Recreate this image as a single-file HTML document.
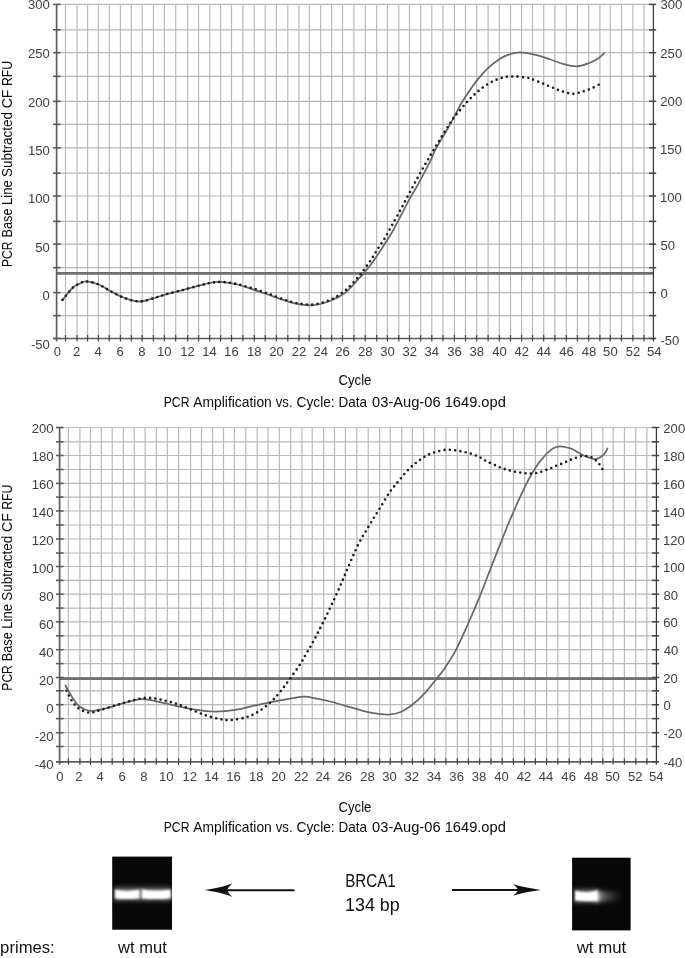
<!DOCTYPE html>
<html><head><meta charset="utf-8"><title>PCR Amplification</title><style>
html,body{margin:0;padding:0;background:#fff;overflow:hidden;}
svg{display:block;will-change:transform;}
text{font-family:"Liberation Sans",sans-serif;}
.lab{font-size:13.7px;fill:#404040;}
.ttl{font-size:14.6px;fill:#0a0a0a;}
.yt{font-size:14.6px;fill:#0a0a0a;}
.big{font-size:19px;fill:#111;}
.sm{font-size:16.2px;fill:#111;}
</style></head>
<body><svg width="685" height="958" viewBox="0 0 685 958">
<rect width="685" height="958" fill="#fff"/>
<line x1="65.5" y1="4.4" x2="65.5" y2="338.5" stroke="#b9b9b9" stroke-width="1.2"/>
<line x1="77" y1="4.4" x2="77" y2="338.5" stroke="#b9b9b9" stroke-width="1.2"/>
<line x1="87.6" y1="4.4" x2="87.6" y2="338.5" stroke="#b9b9b9" stroke-width="1.2"/>
<line x1="98.4" y1="4.4" x2="98.4" y2="338.5" stroke="#b9b9b9" stroke-width="1.2"/>
<line x1="109.3" y1="4.4" x2="109.3" y2="338.5" stroke="#b9b9b9" stroke-width="1.2"/>
<line x1="120.4" y1="4.4" x2="120.4" y2="338.5" stroke="#b9b9b9" stroke-width="1.2"/>
<line x1="131.3" y1="4.4" x2="131.3" y2="338.5" stroke="#b9b9b9" stroke-width="1.2"/>
<line x1="142.2" y1="4.4" x2="142.2" y2="338.5" stroke="#b9b9b9" stroke-width="1.2"/>
<line x1="153.4" y1="4.4" x2="153.4" y2="338.5" stroke="#b9b9b9" stroke-width="1.2"/>
<line x1="164.4" y1="4.4" x2="164.4" y2="338.5" stroke="#b9b9b9" stroke-width="1.2"/>
<line x1="175.7" y1="4.4" x2="175.7" y2="338.5" stroke="#b9b9b9" stroke-width="1.2"/>
<line x1="187.7" y1="4.4" x2="187.7" y2="338.5" stroke="#b9b9b9" stroke-width="1.2"/>
<line x1="198.6" y1="4.4" x2="198.6" y2="338.5" stroke="#b9b9b9" stroke-width="1.2"/>
<line x1="209.7" y1="4.4" x2="209.7" y2="338.5" stroke="#b9b9b9" stroke-width="1.2"/>
<line x1="220.6" y1="4.4" x2="220.6" y2="338.5" stroke="#b9b9b9" stroke-width="1.2"/>
<line x1="231.5" y1="4.4" x2="231.5" y2="338.5" stroke="#b9b9b9" stroke-width="1.2"/>
<line x1="242.9" y1="4.4" x2="242.9" y2="338.5" stroke="#b9b9b9" stroke-width="1.2"/>
<line x1="254.3" y1="4.4" x2="254.3" y2="338.5" stroke="#b9b9b9" stroke-width="1.2"/>
<line x1="265.2" y1="4.4" x2="265.2" y2="338.5" stroke="#b9b9b9" stroke-width="1.2"/>
<line x1="276.4" y1="4.4" x2="276.4" y2="338.5" stroke="#b9b9b9" stroke-width="1.2"/>
<line x1="287.8" y1="4.4" x2="287.8" y2="338.5" stroke="#b9b9b9" stroke-width="1.2"/>
<line x1="299" y1="4.4" x2="299" y2="338.5" stroke="#b9b9b9" stroke-width="1.2"/>
<line x1="309.3" y1="4.4" x2="309.3" y2="338.5" stroke="#b9b9b9" stroke-width="1.2"/>
<line x1="320.7" y1="4.4" x2="320.7" y2="338.5" stroke="#b9b9b9" stroke-width="1.2"/>
<line x1="331.6" y1="4.4" x2="331.6" y2="338.5" stroke="#b9b9b9" stroke-width="1.2"/>
<line x1="342.5" y1="4.4" x2="342.5" y2="338.5" stroke="#b9b9b9" stroke-width="1.2"/>
<line x1="353.9" y1="4.4" x2="353.9" y2="338.5" stroke="#b9b9b9" stroke-width="1.2"/>
<line x1="365.3" y1="4.4" x2="365.3" y2="338.5" stroke="#b9b9b9" stroke-width="1.2"/>
<line x1="376.7" y1="4.4" x2="376.7" y2="338.5" stroke="#b9b9b9" stroke-width="1.2"/>
<line x1="387.4" y1="4.4" x2="387.4" y2="338.5" stroke="#b9b9b9" stroke-width="1.2"/>
<line x1="398.8" y1="4.4" x2="398.8" y2="338.5" stroke="#b9b9b9" stroke-width="1.2"/>
<line x1="409.5" y1="4.4" x2="409.5" y2="338.5" stroke="#b9b9b9" stroke-width="1.2"/>
<line x1="420.7" y1="4.4" x2="420.7" y2="338.5" stroke="#b9b9b9" stroke-width="1.2"/>
<line x1="431.8" y1="4.4" x2="431.8" y2="338.5" stroke="#b9b9b9" stroke-width="1.2"/>
<line x1="443" y1="4.4" x2="443" y2="338.5" stroke="#b9b9b9" stroke-width="1.2"/>
<line x1="454.4" y1="4.4" x2="454.4" y2="338.5" stroke="#b9b9b9" stroke-width="1.2"/>
<line x1="465.5" y1="4.4" x2="465.5" y2="338.5" stroke="#b9b9b9" stroke-width="1.2"/>
<line x1="476.7" y1="4.4" x2="476.7" y2="338.5" stroke="#b9b9b9" stroke-width="1.2"/>
<line x1="488.1" y1="4.4" x2="488.1" y2="338.5" stroke="#b9b9b9" stroke-width="1.2"/>
<line x1="499.3" y1="4.4" x2="499.3" y2="338.5" stroke="#b9b9b9" stroke-width="1.2"/>
<line x1="510.5" y1="4.4" x2="510.5" y2="338.5" stroke="#b9b9b9" stroke-width="1.2"/>
<line x1="521.6" y1="4.4" x2="521.6" y2="338.5" stroke="#b9b9b9" stroke-width="1.2"/>
<line x1="532.5" y1="4.4" x2="532.5" y2="338.5" stroke="#b9b9b9" stroke-width="1.2"/>
<line x1="543.7" y1="4.4" x2="543.7" y2="338.5" stroke="#b9b9b9" stroke-width="1.2"/>
<line x1="554.9" y1="4.4" x2="554.9" y2="338.5" stroke="#b9b9b9" stroke-width="1.2"/>
<line x1="566.3" y1="4.4" x2="566.3" y2="338.5" stroke="#b9b9b9" stroke-width="1.2"/>
<line x1="577.4" y1="4.4" x2="577.4" y2="338.5" stroke="#b9b9b9" stroke-width="1.2"/>
<line x1="588.7" y1="4.4" x2="588.7" y2="338.5" stroke="#b9b9b9" stroke-width="1.2"/>
<line x1="599.9" y1="4.4" x2="599.9" y2="338.5" stroke="#b9b9b9" stroke-width="1.2"/>
<line x1="610.3" y1="4.4" x2="610.3" y2="338.5" stroke="#b9b9b9" stroke-width="1.2"/>
<line x1="621.5" y1="4.4" x2="621.5" y2="338.5" stroke="#b9b9b9" stroke-width="1.2"/>
<line x1="632.9" y1="4.4" x2="632.9" y2="338.5" stroke="#b9b9b9" stroke-width="1.2"/>
<line x1="644" y1="4.4" x2="644" y2="338.5" stroke="#b9b9b9" stroke-width="1.2"/>
<line x1="56.6" y1="4.4" x2="653.4" y2="4.4" stroke="#b9b9b9" stroke-width="1.2"/>
<line x1="56.6" y1="29.8" x2="653.4" y2="29.8" stroke="#b9b9b9" stroke-width="1.2"/>
<line x1="56.6" y1="52.7" x2="653.4" y2="52.7" stroke="#b9b9b9" stroke-width="1.2"/>
<line x1="56.6" y1="76.3" x2="653.4" y2="76.3" stroke="#b9b9b9" stroke-width="1.2"/>
<line x1="56.6" y1="101.3" x2="653.4" y2="101.3" stroke="#b9b9b9" stroke-width="1.2"/>
<line x1="56.6" y1="124.3" x2="653.4" y2="124.3" stroke="#b9b9b9" stroke-width="1.2"/>
<line x1="56.6" y1="147.8" x2="653.4" y2="147.8" stroke="#b9b9b9" stroke-width="1.2"/>
<line x1="56.6" y1="173.2" x2="653.4" y2="173.2" stroke="#b9b9b9" stroke-width="1.2"/>
<line x1="56.6" y1="196" x2="653.4" y2="196" stroke="#b9b9b9" stroke-width="1.2"/>
<line x1="56.6" y1="221.4" x2="653.4" y2="221.4" stroke="#b9b9b9" stroke-width="1.2"/>
<line x1="56.6" y1="244.1" x2="653.4" y2="244.1" stroke="#b9b9b9" stroke-width="1.2"/>
<line x1="56.6" y1="267.7" x2="653.4" y2="267.7" stroke="#b9b9b9" stroke-width="1.2"/>
<line x1="56.6" y1="292.6" x2="653.4" y2="292.6" stroke="#b9b9b9" stroke-width="1.2"/>
<line x1="56.6" y1="315.6" x2="653.4" y2="315.6" stroke="#b9b9b9" stroke-width="1.2"/>
<line x1="56.6" y1="273.4" x2="653.4" y2="273.4" stroke="#6f6f6f" stroke-width="2.8"/>
<line x1="56.6" y1="4.4" x2="56.6" y2="341.5" stroke="#5c5c5c" stroke-width="1.7"/>
<line x1="653.4" y1="4.4" x2="653.4" y2="341.5" stroke="#333" stroke-width="1.2"/>
<line x1="53.1" y1="338.5" x2="655.4" y2="338.5" stroke="#5c5c5c" stroke-width="1.7"/>
<line x1="53" y1="4.4" x2="60.6" y2="4.4" stroke="#5c5c5c" stroke-width="1.6"/>
<line x1="649" y1="4.4" x2="656.2" y2="4.4" stroke="#444" stroke-width="1.5"/>
<line x1="53" y1="29.8" x2="60.6" y2="29.8" stroke="#5c5c5c" stroke-width="1.6"/>
<line x1="649" y1="29.8" x2="656.2" y2="29.8" stroke="#444" stroke-width="1.5"/>
<line x1="53" y1="52.7" x2="60.6" y2="52.7" stroke="#5c5c5c" stroke-width="1.6"/>
<line x1="649" y1="52.7" x2="656.2" y2="52.7" stroke="#444" stroke-width="1.5"/>
<line x1="53" y1="76.3" x2="60.6" y2="76.3" stroke="#5c5c5c" stroke-width="1.6"/>
<line x1="649" y1="76.3" x2="656.2" y2="76.3" stroke="#444" stroke-width="1.5"/>
<line x1="53" y1="101.3" x2="60.6" y2="101.3" stroke="#5c5c5c" stroke-width="1.6"/>
<line x1="649" y1="101.3" x2="656.2" y2="101.3" stroke="#444" stroke-width="1.5"/>
<line x1="53" y1="124.3" x2="60.6" y2="124.3" stroke="#5c5c5c" stroke-width="1.6"/>
<line x1="649" y1="124.3" x2="656.2" y2="124.3" stroke="#444" stroke-width="1.5"/>
<line x1="53" y1="147.8" x2="60.6" y2="147.8" stroke="#5c5c5c" stroke-width="1.6"/>
<line x1="649" y1="147.8" x2="656.2" y2="147.8" stroke="#444" stroke-width="1.5"/>
<line x1="53" y1="173.2" x2="60.6" y2="173.2" stroke="#5c5c5c" stroke-width="1.6"/>
<line x1="649" y1="173.2" x2="656.2" y2="173.2" stroke="#444" stroke-width="1.5"/>
<line x1="53" y1="196" x2="60.6" y2="196" stroke="#5c5c5c" stroke-width="1.6"/>
<line x1="649" y1="196" x2="656.2" y2="196" stroke="#444" stroke-width="1.5"/>
<line x1="53" y1="221.4" x2="60.6" y2="221.4" stroke="#5c5c5c" stroke-width="1.6"/>
<line x1="649" y1="221.4" x2="656.2" y2="221.4" stroke="#444" stroke-width="1.5"/>
<line x1="53" y1="244.1" x2="60.6" y2="244.1" stroke="#5c5c5c" stroke-width="1.6"/>
<line x1="649" y1="244.1" x2="656.2" y2="244.1" stroke="#444" stroke-width="1.5"/>
<line x1="53" y1="267.7" x2="60.6" y2="267.7" stroke="#5c5c5c" stroke-width="1.6"/>
<line x1="649" y1="267.7" x2="656.2" y2="267.7" stroke="#444" stroke-width="1.5"/>
<line x1="53" y1="292.6" x2="60.6" y2="292.6" stroke="#5c5c5c" stroke-width="1.6"/>
<line x1="649" y1="292.6" x2="656.2" y2="292.6" stroke="#444" stroke-width="1.5"/>
<line x1="53" y1="315.6" x2="60.6" y2="315.6" stroke="#5c5c5c" stroke-width="1.6"/>
<line x1="649" y1="315.6" x2="656.2" y2="315.6" stroke="#444" stroke-width="1.5"/>
<line x1="53" y1="338.5" x2="60.6" y2="338.5" stroke="#5c5c5c" stroke-width="1.6"/>
<line x1="649" y1="338.5" x2="656.2" y2="338.5" stroke="#444" stroke-width="1.5"/>
<line x1="65.5" y1="335" x2="65.5" y2="341.5" stroke="#444" stroke-width="1.2"/>
<line x1="77" y1="335" x2="77" y2="341.5" stroke="#444" stroke-width="1.2"/>
<line x1="87.6" y1="335" x2="87.6" y2="341.5" stroke="#444" stroke-width="1.2"/>
<line x1="98.4" y1="335" x2="98.4" y2="341.5" stroke="#444" stroke-width="1.2"/>
<line x1="109.3" y1="335" x2="109.3" y2="341.5" stroke="#444" stroke-width="1.2"/>
<line x1="120.4" y1="335" x2="120.4" y2="341.5" stroke="#444" stroke-width="1.2"/>
<line x1="131.3" y1="335" x2="131.3" y2="341.5" stroke="#444" stroke-width="1.2"/>
<line x1="142.2" y1="335" x2="142.2" y2="341.5" stroke="#444" stroke-width="1.2"/>
<line x1="153.4" y1="335" x2="153.4" y2="341.5" stroke="#444" stroke-width="1.2"/>
<line x1="164.4" y1="335" x2="164.4" y2="341.5" stroke="#444" stroke-width="1.2"/>
<line x1="175.7" y1="335" x2="175.7" y2="341.5" stroke="#444" stroke-width="1.2"/>
<line x1="187.7" y1="335" x2="187.7" y2="341.5" stroke="#444" stroke-width="1.2"/>
<line x1="198.6" y1="335" x2="198.6" y2="341.5" stroke="#444" stroke-width="1.2"/>
<line x1="209.7" y1="335" x2="209.7" y2="341.5" stroke="#444" stroke-width="1.2"/>
<line x1="220.6" y1="335" x2="220.6" y2="341.5" stroke="#444" stroke-width="1.2"/>
<line x1="231.5" y1="335" x2="231.5" y2="341.5" stroke="#444" stroke-width="1.2"/>
<line x1="242.9" y1="335" x2="242.9" y2="341.5" stroke="#444" stroke-width="1.2"/>
<line x1="254.3" y1="335" x2="254.3" y2="341.5" stroke="#444" stroke-width="1.2"/>
<line x1="265.2" y1="335" x2="265.2" y2="341.5" stroke="#444" stroke-width="1.2"/>
<line x1="276.4" y1="335" x2="276.4" y2="341.5" stroke="#444" stroke-width="1.2"/>
<line x1="287.8" y1="335" x2="287.8" y2="341.5" stroke="#444" stroke-width="1.2"/>
<line x1="299" y1="335" x2="299" y2="341.5" stroke="#444" stroke-width="1.2"/>
<line x1="309.3" y1="335" x2="309.3" y2="341.5" stroke="#444" stroke-width="1.2"/>
<line x1="320.7" y1="335" x2="320.7" y2="341.5" stroke="#444" stroke-width="1.2"/>
<line x1="331.6" y1="335" x2="331.6" y2="341.5" stroke="#444" stroke-width="1.2"/>
<line x1="342.5" y1="335" x2="342.5" y2="341.5" stroke="#444" stroke-width="1.2"/>
<line x1="353.9" y1="335" x2="353.9" y2="341.5" stroke="#444" stroke-width="1.2"/>
<line x1="365.3" y1="335" x2="365.3" y2="341.5" stroke="#444" stroke-width="1.2"/>
<line x1="376.7" y1="335" x2="376.7" y2="341.5" stroke="#444" stroke-width="1.2"/>
<line x1="387.4" y1="335" x2="387.4" y2="341.5" stroke="#444" stroke-width="1.2"/>
<line x1="398.8" y1="335" x2="398.8" y2="341.5" stroke="#444" stroke-width="1.2"/>
<line x1="409.5" y1="335" x2="409.5" y2="341.5" stroke="#444" stroke-width="1.2"/>
<line x1="420.7" y1="335" x2="420.7" y2="341.5" stroke="#444" stroke-width="1.2"/>
<line x1="431.8" y1="335" x2="431.8" y2="341.5" stroke="#444" stroke-width="1.2"/>
<line x1="443" y1="335" x2="443" y2="341.5" stroke="#444" stroke-width="1.2"/>
<line x1="454.4" y1="335" x2="454.4" y2="341.5" stroke="#444" stroke-width="1.2"/>
<line x1="465.5" y1="335" x2="465.5" y2="341.5" stroke="#444" stroke-width="1.2"/>
<line x1="476.7" y1="335" x2="476.7" y2="341.5" stroke="#444" stroke-width="1.2"/>
<line x1="488.1" y1="335" x2="488.1" y2="341.5" stroke="#444" stroke-width="1.2"/>
<line x1="499.3" y1="335" x2="499.3" y2="341.5" stroke="#444" stroke-width="1.2"/>
<line x1="510.5" y1="335" x2="510.5" y2="341.5" stroke="#444" stroke-width="1.2"/>
<line x1="521.6" y1="335" x2="521.6" y2="341.5" stroke="#444" stroke-width="1.2"/>
<line x1="532.5" y1="335" x2="532.5" y2="341.5" stroke="#444" stroke-width="1.2"/>
<line x1="543.7" y1="335" x2="543.7" y2="341.5" stroke="#444" stroke-width="1.2"/>
<line x1="554.9" y1="335" x2="554.9" y2="341.5" stroke="#444" stroke-width="1.2"/>
<line x1="566.3" y1="335" x2="566.3" y2="341.5" stroke="#444" stroke-width="1.2"/>
<line x1="577.4" y1="335" x2="577.4" y2="341.5" stroke="#444" stroke-width="1.2"/>
<line x1="588.7" y1="335" x2="588.7" y2="341.5" stroke="#444" stroke-width="1.2"/>
<line x1="599.9" y1="335" x2="599.9" y2="341.5" stroke="#444" stroke-width="1.2"/>
<line x1="610.3" y1="335" x2="610.3" y2="341.5" stroke="#444" stroke-width="1.2"/>
<line x1="621.5" y1="335" x2="621.5" y2="341.5" stroke="#444" stroke-width="1.2"/>
<line x1="632.9" y1="335" x2="632.9" y2="341.5" stroke="#444" stroke-width="1.2"/>
<line x1="644" y1="335" x2="644" y2="341.5" stroke="#444" stroke-width="1.2"/>
<text x="27.98" y="9.38" class="lab" textLength="21.83" lengthAdjust="spacingAndGlyphs">300</text>
<text x="27.98" y="57.88" class="lab" textLength="21.83" lengthAdjust="spacingAndGlyphs">250</text>
<text x="27.98" y="106.58" class="lab" textLength="21.83" lengthAdjust="spacingAndGlyphs">200</text>
<text x="27.98" y="155.18" class="lab" textLength="21.83" lengthAdjust="spacingAndGlyphs">150</text>
<text x="27.98" y="203.28" class="lab" textLength="21.83" lengthAdjust="spacingAndGlyphs">100</text>
<text x="35.26" y="251.88" class="lab" textLength="14.55" lengthAdjust="spacingAndGlyphs">50</text>
<text x="42.53" y="300.48" class="lab" textLength="7.28" lengthAdjust="spacingAndGlyphs">0</text>
<text x="30.9" y="348.58" class="lab" textLength="18.91" lengthAdjust="spacingAndGlyphs">-50</text>
<text x="660.5" y="9.48" class="lab" textLength="21.83" lengthAdjust="spacingAndGlyphs">300</text>
<text x="660.34" y="57.58" class="lab" textLength="21.83" lengthAdjust="spacingAndGlyphs">250</text>
<text x="660.34" y="106.28" class="lab" textLength="21.83" lengthAdjust="spacingAndGlyphs">200</text>
<text x="660" y="153.58" class="lab" textLength="21.83" lengthAdjust="spacingAndGlyphs">150</text>
<text x="660" y="202.08" class="lab" textLength="21.83" lengthAdjust="spacingAndGlyphs">100</text>
<text x="660.48" y="249.98" class="lab" textLength="14.55" lengthAdjust="spacingAndGlyphs">50</text>
<text x="660.49" y="297.68" class="lab" textLength="7.28" lengthAdjust="spacingAndGlyphs">0</text>
<text x="660.42" y="345.38" class="lab" textLength="18.91" lengthAdjust="spacingAndGlyphs">-50</text>
<text x="53.66" y="356.18" class="lab" textLength="7.28" lengthAdjust="spacingAndGlyphs">0</text>
<text x="73.06" y="356.18" class="lab" textLength="7.28" lengthAdjust="spacingAndGlyphs">2</text>
<text x="94.5" y="356.18" class="lab" textLength="7.28" lengthAdjust="spacingAndGlyphs">4</text>
<text x="116.42" y="356.18" class="lab" textLength="7.28" lengthAdjust="spacingAndGlyphs">6</text>
<text x="138.26" y="356.18" class="lab" textLength="7.28" lengthAdjust="spacingAndGlyphs">8</text>
<text x="156.98" y="356.18" class="lab" textLength="14.55" lengthAdjust="spacingAndGlyphs">10</text>
<text x="180.35" y="356.18" class="lab" textLength="14.55" lengthAdjust="spacingAndGlyphs">12</text>
<text x="202.22" y="356.18" class="lab" textLength="14.55" lengthAdjust="spacingAndGlyphs">14</text>
<text x="224.11" y="356.18" class="lab" textLength="14.55" lengthAdjust="spacingAndGlyphs">16</text>
<text x="246.91" y="356.18" class="lab" textLength="14.55" lengthAdjust="spacingAndGlyphs">18</text>
<text x="269.15" y="356.18" class="lab" textLength="14.55" lengthAdjust="spacingAndGlyphs">20</text>
<text x="291.82" y="356.18" class="lab" textLength="14.55" lengthAdjust="spacingAndGlyphs">22</text>
<text x="313.39" y="356.18" class="lab" textLength="14.55" lengthAdjust="spacingAndGlyphs">24</text>
<text x="335.28" y="356.18" class="lab" textLength="14.55" lengthAdjust="spacingAndGlyphs">26</text>
<text x="358.08" y="356.18" class="lab" textLength="14.55" lengthAdjust="spacingAndGlyphs">28</text>
<text x="380.23" y="356.18" class="lab" textLength="14.55" lengthAdjust="spacingAndGlyphs">30</text>
<text x="402.4" y="356.18" class="lab" textLength="14.55" lengthAdjust="spacingAndGlyphs">32</text>
<text x="424.57" y="356.18" class="lab" textLength="14.55" lengthAdjust="spacingAndGlyphs">34</text>
<text x="447.26" y="356.18" class="lab" textLength="14.55" lengthAdjust="spacingAndGlyphs">36</text>
<text x="469.56" y="356.18" class="lab" textLength="14.55" lengthAdjust="spacingAndGlyphs">38</text>
<text x="492.23" y="356.18" class="lab" textLength="14.55" lengthAdjust="spacingAndGlyphs">40</text>
<text x="514.6" y="356.18" class="lab" textLength="14.55" lengthAdjust="spacingAndGlyphs">42</text>
<text x="536.57" y="356.18" class="lab" textLength="14.55" lengthAdjust="spacingAndGlyphs">44</text>
<text x="559.26" y="356.18" class="lab" textLength="14.55" lengthAdjust="spacingAndGlyphs">46</text>
<text x="581.66" y="356.18" class="lab" textLength="14.55" lengthAdjust="spacingAndGlyphs">48</text>
<text x="603.12" y="356.18" class="lab" textLength="14.55" lengthAdjust="spacingAndGlyphs">50</text>
<text x="625.79" y="356.18" class="lab" textLength="14.55" lengthAdjust="spacingAndGlyphs">52</text>
<text x="647.05" y="356.18" class="lab" textLength="14.55" lengthAdjust="spacingAndGlyphs">54</text>
<text x="338.43" y="384.8" class="ttl" textLength="33.06" lengthAdjust="spacingAndGlyphs">Cycle</text>
<text x="163.7" y="406.8" class="ttl" textLength="25.77" lengthAdjust="spacingAndGlyphs">PCR</text>
<text x="193.27" y="406.8" class="ttl" textLength="78.53" lengthAdjust="spacingAndGlyphs">Amplification</text>
<text x="275.75" y="406.8" class="ttl" textLength="16.85" lengthAdjust="spacingAndGlyphs">vs.</text>
<text x="296.5" y="406.8" class="ttl" textLength="38.15" lengthAdjust="spacingAndGlyphs">Cycle:</text>
<text x="338.59" y="406.8" class="ttl" textLength="28.51" lengthAdjust="spacingAndGlyphs">Data</text>
<text x="372.13" y="406.8" class="ttl" textLength="68.42" lengthAdjust="spacingAndGlyphs">03-Aug-06</text>
<text x="444.68" y="406.8" class="ttl" textLength="61.16" lengthAdjust="spacingAndGlyphs">1649.opd</text>
<text transform="translate(12 0) rotate(-90)" x="-266.99" y="0" class="yt" textLength="25.55" lengthAdjust="spacingAndGlyphs">PCR</text>
<text transform="translate(12 0) rotate(-90)" x="-237.54" y="0" class="yt" textLength="29.01" lengthAdjust="spacingAndGlyphs">Base</text>
<text transform="translate(12 0) rotate(-90)" x="-204.97" y="0" class="yt" textLength="24.65" lengthAdjust="spacingAndGlyphs">Line</text>
<text transform="translate(12 0) rotate(-90)" x="-177.01" y="0" class="yt" textLength="64.98" lengthAdjust="spacingAndGlyphs">Subtracted</text>
<text transform="translate(12 0) rotate(-90)" x="-108.32" y="0" class="yt" textLength="18.78" lengthAdjust="spacingAndGlyphs">CF</text>
<text transform="translate(12 0) rotate(-90)" x="-86.1" y="0" class="yt" textLength="25.15" lengthAdjust="spacingAndGlyphs">RFU</text>
<line x1="68.4" y1="427.5" x2="68.4" y2="761.8" stroke="#b9b9b9" stroke-width="1.2"/>
<line x1="79.9" y1="427.5" x2="79.9" y2="761.8" stroke="#b9b9b9" stroke-width="1.2"/>
<line x1="90.5" y1="427.5" x2="90.5" y2="761.8" stroke="#b9b9b9" stroke-width="1.2"/>
<line x1="101.3" y1="427.5" x2="101.3" y2="761.8" stroke="#b9b9b9" stroke-width="1.2"/>
<line x1="112.2" y1="427.5" x2="112.2" y2="761.8" stroke="#b9b9b9" stroke-width="1.2"/>
<line x1="123.3" y1="427.5" x2="123.3" y2="761.8" stroke="#b9b9b9" stroke-width="1.2"/>
<line x1="134.2" y1="427.5" x2="134.2" y2="761.8" stroke="#b9b9b9" stroke-width="1.2"/>
<line x1="145.1" y1="427.5" x2="145.1" y2="761.8" stroke="#b9b9b9" stroke-width="1.2"/>
<line x1="156.3" y1="427.5" x2="156.3" y2="761.8" stroke="#b9b9b9" stroke-width="1.2"/>
<line x1="167.3" y1="427.5" x2="167.3" y2="761.8" stroke="#b9b9b9" stroke-width="1.2"/>
<line x1="178.6" y1="427.5" x2="178.6" y2="761.8" stroke="#b9b9b9" stroke-width="1.2"/>
<line x1="190.6" y1="427.5" x2="190.6" y2="761.8" stroke="#b9b9b9" stroke-width="1.2"/>
<line x1="201.5" y1="427.5" x2="201.5" y2="761.8" stroke="#b9b9b9" stroke-width="1.2"/>
<line x1="212.6" y1="427.5" x2="212.6" y2="761.8" stroke="#b9b9b9" stroke-width="1.2"/>
<line x1="223.5" y1="427.5" x2="223.5" y2="761.8" stroke="#b9b9b9" stroke-width="1.2"/>
<line x1="234.4" y1="427.5" x2="234.4" y2="761.8" stroke="#b9b9b9" stroke-width="1.2"/>
<line x1="245.8" y1="427.5" x2="245.8" y2="761.8" stroke="#b9b9b9" stroke-width="1.2"/>
<line x1="257.2" y1="427.5" x2="257.2" y2="761.8" stroke="#b9b9b9" stroke-width="1.2"/>
<line x1="268.1" y1="427.5" x2="268.1" y2="761.8" stroke="#b9b9b9" stroke-width="1.2"/>
<line x1="279.3" y1="427.5" x2="279.3" y2="761.8" stroke="#b9b9b9" stroke-width="1.2"/>
<line x1="290.7" y1="427.5" x2="290.7" y2="761.8" stroke="#b9b9b9" stroke-width="1.2"/>
<line x1="301.9" y1="427.5" x2="301.9" y2="761.8" stroke="#b9b9b9" stroke-width="1.2"/>
<line x1="312.2" y1="427.5" x2="312.2" y2="761.8" stroke="#b9b9b9" stroke-width="1.2"/>
<line x1="323.6" y1="427.5" x2="323.6" y2="761.8" stroke="#b9b9b9" stroke-width="1.2"/>
<line x1="334.5" y1="427.5" x2="334.5" y2="761.8" stroke="#b9b9b9" stroke-width="1.2"/>
<line x1="345.4" y1="427.5" x2="345.4" y2="761.8" stroke="#b9b9b9" stroke-width="1.2"/>
<line x1="356.8" y1="427.5" x2="356.8" y2="761.8" stroke="#b9b9b9" stroke-width="1.2"/>
<line x1="368.2" y1="427.5" x2="368.2" y2="761.8" stroke="#b9b9b9" stroke-width="1.2"/>
<line x1="379.6" y1="427.5" x2="379.6" y2="761.8" stroke="#b9b9b9" stroke-width="1.2"/>
<line x1="390.3" y1="427.5" x2="390.3" y2="761.8" stroke="#b9b9b9" stroke-width="1.2"/>
<line x1="401.7" y1="427.5" x2="401.7" y2="761.8" stroke="#b9b9b9" stroke-width="1.2"/>
<line x1="412.4" y1="427.5" x2="412.4" y2="761.8" stroke="#b9b9b9" stroke-width="1.2"/>
<line x1="423.6" y1="427.5" x2="423.6" y2="761.8" stroke="#b9b9b9" stroke-width="1.2"/>
<line x1="434.7" y1="427.5" x2="434.7" y2="761.8" stroke="#b9b9b9" stroke-width="1.2"/>
<line x1="445.9" y1="427.5" x2="445.9" y2="761.8" stroke="#b9b9b9" stroke-width="1.2"/>
<line x1="457.3" y1="427.5" x2="457.3" y2="761.8" stroke="#b9b9b9" stroke-width="1.2"/>
<line x1="468.4" y1="427.5" x2="468.4" y2="761.8" stroke="#b9b9b9" stroke-width="1.2"/>
<line x1="479.6" y1="427.5" x2="479.6" y2="761.8" stroke="#b9b9b9" stroke-width="1.2"/>
<line x1="491" y1="427.5" x2="491" y2="761.8" stroke="#b9b9b9" stroke-width="1.2"/>
<line x1="502.2" y1="427.5" x2="502.2" y2="761.8" stroke="#b9b9b9" stroke-width="1.2"/>
<line x1="513.4" y1="427.5" x2="513.4" y2="761.8" stroke="#b9b9b9" stroke-width="1.2"/>
<line x1="524.5" y1="427.5" x2="524.5" y2="761.8" stroke="#b9b9b9" stroke-width="1.2"/>
<line x1="535.4" y1="427.5" x2="535.4" y2="761.8" stroke="#b9b9b9" stroke-width="1.2"/>
<line x1="546.6" y1="427.5" x2="546.6" y2="761.8" stroke="#b9b9b9" stroke-width="1.2"/>
<line x1="557.8" y1="427.5" x2="557.8" y2="761.8" stroke="#b9b9b9" stroke-width="1.2"/>
<line x1="569.2" y1="427.5" x2="569.2" y2="761.8" stroke="#b9b9b9" stroke-width="1.2"/>
<line x1="580.3" y1="427.5" x2="580.3" y2="761.8" stroke="#b9b9b9" stroke-width="1.2"/>
<line x1="591.6" y1="427.5" x2="591.6" y2="761.8" stroke="#b9b9b9" stroke-width="1.2"/>
<line x1="602.8" y1="427.5" x2="602.8" y2="761.8" stroke="#b9b9b9" stroke-width="1.2"/>
<line x1="613.2" y1="427.5" x2="613.2" y2="761.8" stroke="#b9b9b9" stroke-width="1.2"/>
<line x1="624.4" y1="427.5" x2="624.4" y2="761.8" stroke="#b9b9b9" stroke-width="1.2"/>
<line x1="635.8" y1="427.5" x2="635.8" y2="761.8" stroke="#b9b9b9" stroke-width="1.2"/>
<line x1="646.9" y1="427.5" x2="646.9" y2="761.8" stroke="#b9b9b9" stroke-width="1.2"/>
<line x1="59.6" y1="427.5" x2="656.4" y2="427.5" stroke="#b9b9b9" stroke-width="1.2"/>
<line x1="59.6" y1="441.8" x2="656.4" y2="441.8" stroke="#b9b9b9" stroke-width="1.2"/>
<line x1="59.6" y1="455.5" x2="656.4" y2="455.5" stroke="#b9b9b9" stroke-width="1.2"/>
<line x1="59.6" y1="469.5" x2="656.4" y2="469.5" stroke="#b9b9b9" stroke-width="1.2"/>
<line x1="59.6" y1="483.4" x2="656.4" y2="483.4" stroke="#b9b9b9" stroke-width="1.2"/>
<line x1="59.6" y1="497.1" x2="656.4" y2="497.1" stroke="#b9b9b9" stroke-width="1.2"/>
<line x1="59.6" y1="511" x2="656.4" y2="511" stroke="#b9b9b9" stroke-width="1.2"/>
<line x1="59.6" y1="525" x2="656.4" y2="525" stroke="#b9b9b9" stroke-width="1.2"/>
<line x1="59.6" y1="539" x2="656.4" y2="539" stroke="#b9b9b9" stroke-width="1.2"/>
<line x1="59.6" y1="553" x2="656.4" y2="553" stroke="#b9b9b9" stroke-width="1.2"/>
<line x1="59.6" y1="566.5" x2="656.4" y2="566.5" stroke="#b9b9b9" stroke-width="1.2"/>
<line x1="59.6" y1="580.4" x2="656.4" y2="580.4" stroke="#b9b9b9" stroke-width="1.2"/>
<line x1="59.6" y1="594.2" x2="656.4" y2="594.2" stroke="#b9b9b9" stroke-width="1.2"/>
<line x1="59.6" y1="608.1" x2="656.4" y2="608.1" stroke="#b9b9b9" stroke-width="1.2"/>
<line x1="59.6" y1="621.8" x2="656.4" y2="621.8" stroke="#b9b9b9" stroke-width="1.2"/>
<line x1="59.6" y1="635.8" x2="656.4" y2="635.8" stroke="#b9b9b9" stroke-width="1.2"/>
<line x1="59.6" y1="649.7" x2="656.4" y2="649.7" stroke="#b9b9b9" stroke-width="1.2"/>
<line x1="59.6" y1="663.6" x2="656.4" y2="663.6" stroke="#b9b9b9" stroke-width="1.2"/>
<line x1="59.6" y1="677.5" x2="656.4" y2="677.5" stroke="#b9b9b9" stroke-width="1.2"/>
<line x1="59.6" y1="690.8" x2="656.4" y2="690.8" stroke="#b9b9b9" stroke-width="1.2"/>
<line x1="59.6" y1="704.7" x2="656.4" y2="704.7" stroke="#b9b9b9" stroke-width="1.2"/>
<line x1="59.6" y1="718.6" x2="656.4" y2="718.6" stroke="#b9b9b9" stroke-width="1.2"/>
<line x1="59.6" y1="732.7" x2="656.4" y2="732.7" stroke="#b9b9b9" stroke-width="1.2"/>
<line x1="59.6" y1="746.5" x2="656.4" y2="746.5" stroke="#b9b9b9" stroke-width="1.2"/>
<line x1="59.6" y1="678.7" x2="656.4" y2="678.7" stroke="#6f6f6f" stroke-width="2.8"/>
<line x1="59.6" y1="427.5" x2="59.6" y2="764.8" stroke="#5c5c5c" stroke-width="1.7"/>
<line x1="656.4" y1="427.5" x2="656.4" y2="764.8" stroke="#333" stroke-width="1.2"/>
<line x1="56.1" y1="761.8" x2="658.4" y2="761.8" stroke="#5c5c5c" stroke-width="1.7"/>
<line x1="56" y1="427.5" x2="63.6" y2="427.5" stroke="#5c5c5c" stroke-width="1.6"/>
<line x1="652" y1="427.5" x2="659.2" y2="427.5" stroke="#444" stroke-width="1.5"/>
<line x1="56" y1="441.8" x2="63.6" y2="441.8" stroke="#5c5c5c" stroke-width="1.6"/>
<line x1="652" y1="441.8" x2="659.2" y2="441.8" stroke="#444" stroke-width="1.5"/>
<line x1="56" y1="455.5" x2="63.6" y2="455.5" stroke="#5c5c5c" stroke-width="1.6"/>
<line x1="652" y1="455.5" x2="659.2" y2="455.5" stroke="#444" stroke-width="1.5"/>
<line x1="56" y1="469.5" x2="63.6" y2="469.5" stroke="#5c5c5c" stroke-width="1.6"/>
<line x1="652" y1="469.5" x2="659.2" y2="469.5" stroke="#444" stroke-width="1.5"/>
<line x1="56" y1="483.4" x2="63.6" y2="483.4" stroke="#5c5c5c" stroke-width="1.6"/>
<line x1="652" y1="483.4" x2="659.2" y2="483.4" stroke="#444" stroke-width="1.5"/>
<line x1="56" y1="497.1" x2="63.6" y2="497.1" stroke="#5c5c5c" stroke-width="1.6"/>
<line x1="652" y1="497.1" x2="659.2" y2="497.1" stroke="#444" stroke-width="1.5"/>
<line x1="56" y1="511" x2="63.6" y2="511" stroke="#5c5c5c" stroke-width="1.6"/>
<line x1="652" y1="511" x2="659.2" y2="511" stroke="#444" stroke-width="1.5"/>
<line x1="56" y1="525" x2="63.6" y2="525" stroke="#5c5c5c" stroke-width="1.6"/>
<line x1="652" y1="525" x2="659.2" y2="525" stroke="#444" stroke-width="1.5"/>
<line x1="56" y1="539" x2="63.6" y2="539" stroke="#5c5c5c" stroke-width="1.6"/>
<line x1="652" y1="539" x2="659.2" y2="539" stroke="#444" stroke-width="1.5"/>
<line x1="56" y1="553" x2="63.6" y2="553" stroke="#5c5c5c" stroke-width="1.6"/>
<line x1="652" y1="553" x2="659.2" y2="553" stroke="#444" stroke-width="1.5"/>
<line x1="56" y1="566.5" x2="63.6" y2="566.5" stroke="#5c5c5c" stroke-width="1.6"/>
<line x1="652" y1="566.5" x2="659.2" y2="566.5" stroke="#444" stroke-width="1.5"/>
<line x1="56" y1="580.4" x2="63.6" y2="580.4" stroke="#5c5c5c" stroke-width="1.6"/>
<line x1="652" y1="580.4" x2="659.2" y2="580.4" stroke="#444" stroke-width="1.5"/>
<line x1="56" y1="594.2" x2="63.6" y2="594.2" stroke="#5c5c5c" stroke-width="1.6"/>
<line x1="652" y1="594.2" x2="659.2" y2="594.2" stroke="#444" stroke-width="1.5"/>
<line x1="56" y1="608.1" x2="63.6" y2="608.1" stroke="#5c5c5c" stroke-width="1.6"/>
<line x1="652" y1="608.1" x2="659.2" y2="608.1" stroke="#444" stroke-width="1.5"/>
<line x1="56" y1="621.8" x2="63.6" y2="621.8" stroke="#5c5c5c" stroke-width="1.6"/>
<line x1="652" y1="621.8" x2="659.2" y2="621.8" stroke="#444" stroke-width="1.5"/>
<line x1="56" y1="635.8" x2="63.6" y2="635.8" stroke="#5c5c5c" stroke-width="1.6"/>
<line x1="652" y1="635.8" x2="659.2" y2="635.8" stroke="#444" stroke-width="1.5"/>
<line x1="56" y1="649.7" x2="63.6" y2="649.7" stroke="#5c5c5c" stroke-width="1.6"/>
<line x1="652" y1="649.7" x2="659.2" y2="649.7" stroke="#444" stroke-width="1.5"/>
<line x1="56" y1="663.6" x2="63.6" y2="663.6" stroke="#5c5c5c" stroke-width="1.6"/>
<line x1="652" y1="663.6" x2="659.2" y2="663.6" stroke="#444" stroke-width="1.5"/>
<line x1="56" y1="677.5" x2="63.6" y2="677.5" stroke="#5c5c5c" stroke-width="1.6"/>
<line x1="652" y1="677.5" x2="659.2" y2="677.5" stroke="#444" stroke-width="1.5"/>
<line x1="56" y1="690.8" x2="63.6" y2="690.8" stroke="#5c5c5c" stroke-width="1.6"/>
<line x1="652" y1="690.8" x2="659.2" y2="690.8" stroke="#444" stroke-width="1.5"/>
<line x1="56" y1="704.7" x2="63.6" y2="704.7" stroke="#5c5c5c" stroke-width="1.6"/>
<line x1="652" y1="704.7" x2="659.2" y2="704.7" stroke="#444" stroke-width="1.5"/>
<line x1="56" y1="718.6" x2="63.6" y2="718.6" stroke="#5c5c5c" stroke-width="1.6"/>
<line x1="652" y1="718.6" x2="659.2" y2="718.6" stroke="#444" stroke-width="1.5"/>
<line x1="56" y1="732.7" x2="63.6" y2="732.7" stroke="#5c5c5c" stroke-width="1.6"/>
<line x1="652" y1="732.7" x2="659.2" y2="732.7" stroke="#444" stroke-width="1.5"/>
<line x1="56" y1="746.5" x2="63.6" y2="746.5" stroke="#5c5c5c" stroke-width="1.6"/>
<line x1="652" y1="746.5" x2="659.2" y2="746.5" stroke="#444" stroke-width="1.5"/>
<line x1="56" y1="761.8" x2="63.6" y2="761.8" stroke="#5c5c5c" stroke-width="1.6"/>
<line x1="652" y1="761.8" x2="659.2" y2="761.8" stroke="#444" stroke-width="1.5"/>
<line x1="68.4" y1="758.3" x2="68.4" y2="764.8" stroke="#444" stroke-width="1.2"/>
<line x1="79.9" y1="758.3" x2="79.9" y2="764.8" stroke="#444" stroke-width="1.2"/>
<line x1="90.5" y1="758.3" x2="90.5" y2="764.8" stroke="#444" stroke-width="1.2"/>
<line x1="101.3" y1="758.3" x2="101.3" y2="764.8" stroke="#444" stroke-width="1.2"/>
<line x1="112.2" y1="758.3" x2="112.2" y2="764.8" stroke="#444" stroke-width="1.2"/>
<line x1="123.3" y1="758.3" x2="123.3" y2="764.8" stroke="#444" stroke-width="1.2"/>
<line x1="134.2" y1="758.3" x2="134.2" y2="764.8" stroke="#444" stroke-width="1.2"/>
<line x1="145.1" y1="758.3" x2="145.1" y2="764.8" stroke="#444" stroke-width="1.2"/>
<line x1="156.3" y1="758.3" x2="156.3" y2="764.8" stroke="#444" stroke-width="1.2"/>
<line x1="167.3" y1="758.3" x2="167.3" y2="764.8" stroke="#444" stroke-width="1.2"/>
<line x1="178.6" y1="758.3" x2="178.6" y2="764.8" stroke="#444" stroke-width="1.2"/>
<line x1="190.6" y1="758.3" x2="190.6" y2="764.8" stroke="#444" stroke-width="1.2"/>
<line x1="201.5" y1="758.3" x2="201.5" y2="764.8" stroke="#444" stroke-width="1.2"/>
<line x1="212.6" y1="758.3" x2="212.6" y2="764.8" stroke="#444" stroke-width="1.2"/>
<line x1="223.5" y1="758.3" x2="223.5" y2="764.8" stroke="#444" stroke-width="1.2"/>
<line x1="234.4" y1="758.3" x2="234.4" y2="764.8" stroke="#444" stroke-width="1.2"/>
<line x1="245.8" y1="758.3" x2="245.8" y2="764.8" stroke="#444" stroke-width="1.2"/>
<line x1="257.2" y1="758.3" x2="257.2" y2="764.8" stroke="#444" stroke-width="1.2"/>
<line x1="268.1" y1="758.3" x2="268.1" y2="764.8" stroke="#444" stroke-width="1.2"/>
<line x1="279.3" y1="758.3" x2="279.3" y2="764.8" stroke="#444" stroke-width="1.2"/>
<line x1="290.7" y1="758.3" x2="290.7" y2="764.8" stroke="#444" stroke-width="1.2"/>
<line x1="301.9" y1="758.3" x2="301.9" y2="764.8" stroke="#444" stroke-width="1.2"/>
<line x1="312.2" y1="758.3" x2="312.2" y2="764.8" stroke="#444" stroke-width="1.2"/>
<line x1="323.6" y1="758.3" x2="323.6" y2="764.8" stroke="#444" stroke-width="1.2"/>
<line x1="334.5" y1="758.3" x2="334.5" y2="764.8" stroke="#444" stroke-width="1.2"/>
<line x1="345.4" y1="758.3" x2="345.4" y2="764.8" stroke="#444" stroke-width="1.2"/>
<line x1="356.8" y1="758.3" x2="356.8" y2="764.8" stroke="#444" stroke-width="1.2"/>
<line x1="368.2" y1="758.3" x2="368.2" y2="764.8" stroke="#444" stroke-width="1.2"/>
<line x1="379.6" y1="758.3" x2="379.6" y2="764.8" stroke="#444" stroke-width="1.2"/>
<line x1="390.3" y1="758.3" x2="390.3" y2="764.8" stroke="#444" stroke-width="1.2"/>
<line x1="401.7" y1="758.3" x2="401.7" y2="764.8" stroke="#444" stroke-width="1.2"/>
<line x1="412.4" y1="758.3" x2="412.4" y2="764.8" stroke="#444" stroke-width="1.2"/>
<line x1="423.6" y1="758.3" x2="423.6" y2="764.8" stroke="#444" stroke-width="1.2"/>
<line x1="434.7" y1="758.3" x2="434.7" y2="764.8" stroke="#444" stroke-width="1.2"/>
<line x1="445.9" y1="758.3" x2="445.9" y2="764.8" stroke="#444" stroke-width="1.2"/>
<line x1="457.3" y1="758.3" x2="457.3" y2="764.8" stroke="#444" stroke-width="1.2"/>
<line x1="468.4" y1="758.3" x2="468.4" y2="764.8" stroke="#444" stroke-width="1.2"/>
<line x1="479.6" y1="758.3" x2="479.6" y2="764.8" stroke="#444" stroke-width="1.2"/>
<line x1="491" y1="758.3" x2="491" y2="764.8" stroke="#444" stroke-width="1.2"/>
<line x1="502.2" y1="758.3" x2="502.2" y2="764.8" stroke="#444" stroke-width="1.2"/>
<line x1="513.4" y1="758.3" x2="513.4" y2="764.8" stroke="#444" stroke-width="1.2"/>
<line x1="524.5" y1="758.3" x2="524.5" y2="764.8" stroke="#444" stroke-width="1.2"/>
<line x1="535.4" y1="758.3" x2="535.4" y2="764.8" stroke="#444" stroke-width="1.2"/>
<line x1="546.6" y1="758.3" x2="546.6" y2="764.8" stroke="#444" stroke-width="1.2"/>
<line x1="557.8" y1="758.3" x2="557.8" y2="764.8" stroke="#444" stroke-width="1.2"/>
<line x1="569.2" y1="758.3" x2="569.2" y2="764.8" stroke="#444" stroke-width="1.2"/>
<line x1="580.3" y1="758.3" x2="580.3" y2="764.8" stroke="#444" stroke-width="1.2"/>
<line x1="591.6" y1="758.3" x2="591.6" y2="764.8" stroke="#444" stroke-width="1.2"/>
<line x1="602.8" y1="758.3" x2="602.8" y2="764.8" stroke="#444" stroke-width="1.2"/>
<line x1="613.2" y1="758.3" x2="613.2" y2="764.8" stroke="#444" stroke-width="1.2"/>
<line x1="624.4" y1="758.3" x2="624.4" y2="764.8" stroke="#444" stroke-width="1.2"/>
<line x1="635.8" y1="758.3" x2="635.8" y2="764.8" stroke="#444" stroke-width="1.2"/>
<line x1="646.9" y1="758.3" x2="646.9" y2="764.8" stroke="#444" stroke-width="1.2"/>
<text x="31.78" y="433.28" class="lab" textLength="21.83" lengthAdjust="spacingAndGlyphs">200</text>
<text x="31.78" y="461.28" class="lab" textLength="21.83" lengthAdjust="spacingAndGlyphs">180</text>
<text x="31.78" y="489.28" class="lab" textLength="21.83" lengthAdjust="spacingAndGlyphs">160</text>
<text x="31.78" y="517.28" class="lab" textLength="21.83" lengthAdjust="spacingAndGlyphs">140</text>
<text x="31.78" y="545.28" class="lab" textLength="21.83" lengthAdjust="spacingAndGlyphs">120</text>
<text x="31.78" y="573.28" class="lab" textLength="21.83" lengthAdjust="spacingAndGlyphs">100</text>
<text x="39.06" y="601.28" class="lab" textLength="14.55" lengthAdjust="spacingAndGlyphs">80</text>
<text x="39.06" y="629.28" class="lab" textLength="14.55" lengthAdjust="spacingAndGlyphs">60</text>
<text x="39.06" y="657.28" class="lab" textLength="14.55" lengthAdjust="spacingAndGlyphs">40</text>
<text x="39.06" y="685.28" class="lab" textLength="14.55" lengthAdjust="spacingAndGlyphs">20</text>
<text x="46.33" y="713.28" class="lab" textLength="7.28" lengthAdjust="spacingAndGlyphs">0</text>
<text x="34.7" y="741.28" class="lab" textLength="18.91" lengthAdjust="spacingAndGlyphs">-20</text>
<text x="34.7" y="769.28" class="lab" textLength="18.91" lengthAdjust="spacingAndGlyphs">-40</text>
<text x="663.34" y="433.08" class="lab" textLength="21.83" lengthAdjust="spacingAndGlyphs">200</text>
<text x="663" y="461.08" class="lab" textLength="21.83" lengthAdjust="spacingAndGlyphs">180</text>
<text x="663" y="488.98" class="lab" textLength="21.83" lengthAdjust="spacingAndGlyphs">160</text>
<text x="663" y="516.58" class="lab" textLength="21.83" lengthAdjust="spacingAndGlyphs">140</text>
<text x="663" y="544.58" class="lab" textLength="21.83" lengthAdjust="spacingAndGlyphs">120</text>
<text x="663" y="572.08" class="lab" textLength="21.83" lengthAdjust="spacingAndGlyphs">100</text>
<text x="663.43" y="599.78" class="lab" textLength="14.55" lengthAdjust="spacingAndGlyphs">80</text>
<text x="663.34" y="627.38" class="lab" textLength="14.55" lengthAdjust="spacingAndGlyphs">60</text>
<text x="663.7" y="655.28" class="lab" textLength="14.55" lengthAdjust="spacingAndGlyphs">40</text>
<text x="663.34" y="683.08" class="lab" textLength="14.55" lengthAdjust="spacingAndGlyphs">20</text>
<text x="663.49" y="710.28" class="lab" textLength="7.28" lengthAdjust="spacingAndGlyphs">0</text>
<text x="663.42" y="738.28" class="lab" textLength="18.91" lengthAdjust="spacingAndGlyphs">-20</text>
<text x="663.42" y="767.38" class="lab" textLength="18.91" lengthAdjust="spacingAndGlyphs">-40</text>
<text x="56.16" y="781.18" class="lab" textLength="7.28" lengthAdjust="spacingAndGlyphs">0</text>
<text x="75.16" y="781.18" class="lab" textLength="7.28" lengthAdjust="spacingAndGlyphs">2</text>
<text x="96.6" y="781.18" class="lab" textLength="7.28" lengthAdjust="spacingAndGlyphs">4</text>
<text x="118.52" y="781.18" class="lab" textLength="7.28" lengthAdjust="spacingAndGlyphs">6</text>
<text x="140.36" y="781.18" class="lab" textLength="7.28" lengthAdjust="spacingAndGlyphs">8</text>
<text x="159.08" y="781.18" class="lab" textLength="14.55" lengthAdjust="spacingAndGlyphs">10</text>
<text x="182.45" y="781.18" class="lab" textLength="14.55" lengthAdjust="spacingAndGlyphs">12</text>
<text x="204.32" y="781.18" class="lab" textLength="14.55" lengthAdjust="spacingAndGlyphs">14</text>
<text x="226.21" y="781.18" class="lab" textLength="14.55" lengthAdjust="spacingAndGlyphs">16</text>
<text x="249.01" y="781.18" class="lab" textLength="14.55" lengthAdjust="spacingAndGlyphs">18</text>
<text x="271.25" y="781.18" class="lab" textLength="14.55" lengthAdjust="spacingAndGlyphs">20</text>
<text x="293.92" y="781.18" class="lab" textLength="14.55" lengthAdjust="spacingAndGlyphs">22</text>
<text x="315.49" y="781.18" class="lab" textLength="14.55" lengthAdjust="spacingAndGlyphs">24</text>
<text x="337.38" y="781.18" class="lab" textLength="14.55" lengthAdjust="spacingAndGlyphs">26</text>
<text x="360.18" y="781.18" class="lab" textLength="14.55" lengthAdjust="spacingAndGlyphs">28</text>
<text x="382.33" y="781.18" class="lab" textLength="14.55" lengthAdjust="spacingAndGlyphs">30</text>
<text x="404.5" y="781.18" class="lab" textLength="14.55" lengthAdjust="spacingAndGlyphs">32</text>
<text x="426.67" y="781.18" class="lab" textLength="14.55" lengthAdjust="spacingAndGlyphs">34</text>
<text x="449.36" y="781.18" class="lab" textLength="14.55" lengthAdjust="spacingAndGlyphs">36</text>
<text x="471.66" y="781.18" class="lab" textLength="14.55" lengthAdjust="spacingAndGlyphs">38</text>
<text x="494.33" y="781.18" class="lab" textLength="14.55" lengthAdjust="spacingAndGlyphs">40</text>
<text x="516.7" y="781.18" class="lab" textLength="14.55" lengthAdjust="spacingAndGlyphs">42</text>
<text x="538.67" y="781.18" class="lab" textLength="14.55" lengthAdjust="spacingAndGlyphs">44</text>
<text x="561.36" y="781.18" class="lab" textLength="14.55" lengthAdjust="spacingAndGlyphs">46</text>
<text x="583.76" y="781.18" class="lab" textLength="14.55" lengthAdjust="spacingAndGlyphs">48</text>
<text x="605.22" y="781.18" class="lab" textLength="14.55" lengthAdjust="spacingAndGlyphs">50</text>
<text x="627.89" y="781.18" class="lab" textLength="14.55" lengthAdjust="spacingAndGlyphs">52</text>
<text x="648.95" y="781.18" class="lab" textLength="14.55" lengthAdjust="spacingAndGlyphs">54</text>
<text x="338.43" y="811.8" class="ttl" textLength="33.06" lengthAdjust="spacingAndGlyphs">Cycle</text>
<text x="163.7" y="831.6" class="ttl" textLength="25.77" lengthAdjust="spacingAndGlyphs">PCR</text>
<text x="193.27" y="831.6" class="ttl" textLength="78.53" lengthAdjust="spacingAndGlyphs">Amplification</text>
<text x="275.75" y="831.6" class="ttl" textLength="16.85" lengthAdjust="spacingAndGlyphs">vs.</text>
<text x="296.5" y="831.6" class="ttl" textLength="38.15" lengthAdjust="spacingAndGlyphs">Cycle:</text>
<text x="338.59" y="831.6" class="ttl" textLength="28.51" lengthAdjust="spacingAndGlyphs">Data</text>
<text x="372.13" y="831.6" class="ttl" textLength="68.42" lengthAdjust="spacingAndGlyphs">03-Aug-06</text>
<text x="444.68" y="831.6" class="ttl" textLength="61.16" lengthAdjust="spacingAndGlyphs">1649.opd</text>
<text transform="translate(12 0) rotate(-90)" x="-690.69" y="0" class="yt" textLength="25.55" lengthAdjust="spacingAndGlyphs">PCR</text>
<text transform="translate(12 0) rotate(-90)" x="-661.24" y="0" class="yt" textLength="29.01" lengthAdjust="spacingAndGlyphs">Base</text>
<text transform="translate(12 0) rotate(-90)" x="-628.67" y="0" class="yt" textLength="24.65" lengthAdjust="spacingAndGlyphs">Line</text>
<text transform="translate(12 0) rotate(-90)" x="-600.71" y="0" class="yt" textLength="64.98" lengthAdjust="spacingAndGlyphs">Subtracted</text>
<text transform="translate(12 0) rotate(-90)" x="-532.02" y="0" class="yt" textLength="18.78" lengthAdjust="spacingAndGlyphs">CF</text>
<text transform="translate(12 0) rotate(-90)" x="-509.8" y="0" class="yt" textLength="25.15" lengthAdjust="spacingAndGlyphs">RFU</text>
<path d="M62.5,299.9 C64.17,297.92 69.67,290.72 72.5,288 C75.33,285.28 77.17,284.7 79.5,283.6 C81.83,282.5 83.28,281.25 86.5,281.4 C89.72,281.55 94.72,282.82 98.8,284.5 C102.88,286.18 106.63,289.22 111,291.5 C115.37,293.78 120.17,296.53 125,298.2 C129.83,299.87 135,301.57 140,301.5 C145,301.43 150.83,298.95 155,297.8 C159.17,296.65 160.42,295.88 165,294.6 C169.58,293.32 176.67,291.63 182.5,290.1 C188.33,288.57 195.42,286.58 200,285.4 C204.58,284.22 206.58,283.58 210,283 C213.42,282.42 216.33,281.73 220.5,281.9 C224.67,282.07 230.08,282.92 235,284 C239.92,285.08 244.77,286.73 250,288.4 C255.23,290.07 259.48,291.63 266.4,294 C273.32,296.37 283.9,300.72 291.5,302.6 C299.1,304.48 305.58,305.57 312,305.3 C318.42,305.03 324.42,303.13 330,301 C335.58,298.87 340.87,296.05 345.5,292.5 C350.13,288.95 354.65,283.02 357.8,279.7 C360.95,276.38 361.73,275.82 364.4,272.6 C367.07,269.38 370.67,264.78 373.8,260.4 C376.93,256.02 380.07,251.15 383.2,246.3 C386.33,241.45 389.47,236.77 392.6,231.3 C395.73,225.83 399.17,218.9 402,213.5 C404.83,208.1 407.15,203.35 409.6,198.9 C412.05,194.45 414.4,190.9 416.7,186.8 C419,182.7 421.18,178.48 423.4,174.3 C425.62,170.12 427.98,165.85 430,161.7 C432.02,157.55 433.55,153.2 435.5,149.4 C437.45,145.6 439.7,142.32 441.7,138.9 C443.7,135.48 445.55,132.32 447.5,128.9 C449.45,125.48 451.25,122.38 453.4,118.4 C455.55,114.42 458.4,108.6 460.4,105 C462.4,101.4 462.67,100.87 465.4,96.8 C468.13,92.73 473.08,85.33 476.8,80.6 C480.52,75.87 483.83,72.03 487.7,68.4 C491.57,64.77 496.48,61.1 500,58.8 C503.52,56.5 505.5,55.67 508.8,54.6 C512.1,53.53 515.5,52.4 519.8,52.4 C524.1,52.4 529.7,53.5 534.6,54.6 C539.5,55.7 544.33,57.42 549.2,59 C554.07,60.58 559.18,62.88 563.8,64.1 C568.42,65.32 572.77,66.43 576.9,66.3 C581.03,66.17 585.18,64.52 588.6,63.3 C592.02,62.08 594.8,60.68 597.4,59 C600,57.32 603.07,54.17 604.2,53.2" fill="none" stroke="#686868" stroke-width="1.75" stroke-linejoin="round" stroke-linecap="round"/>
<path d="M65.5,685.5 C66.67,687.55 70.17,694.3 72.5,697.8 C74.83,701.3 76.58,704.32 79.5,706.5 C82.42,708.68 86.2,710.45 90,710.9 C93.8,711.35 97.63,710.22 102.3,709.2 C106.97,708.18 113.05,706.18 118,704.8 C122.95,703.42 127.9,701.83 132,700.9 C136.1,699.97 138.5,699.13 142.6,699.2 C146.7,699.27 151.2,700.23 156.6,701.3 C162,702.37 169.37,704.33 175,705.6 C180.63,706.87 184.08,707.92 190.4,708.9 C196.72,709.88 205.4,711.33 212.9,711.5 C220.4,711.67 227.9,711.02 235.4,709.9 C242.9,708.78 250.4,706.4 257.9,704.8 C265.4,703.2 273.22,701.63 280.4,700.3 C287.58,698.97 295.98,697.28 301,696.8 C306.02,696.32 305.67,696.62 310.5,697.4 C315.33,698.18 323.83,700 330,701.5 C336.17,703 341.67,704.77 347.5,706.4 C353.33,708.03 359.75,710.05 365,711.3 C370.25,712.55 375.2,713.35 379,713.9 C382.8,714.45 384.3,714.88 387.8,714.6 C391.3,714.32 395.92,713.85 400,712.2 C404.08,710.55 408.2,707.85 412.3,704.7 C416.4,701.55 420.52,697.68 424.6,693.3 C428.68,688.92 433.6,682.37 436.8,678.4 C440,674.43 440.6,674.27 443.8,669.5 C447,664.73 451.93,657.47 456,649.8 C460.07,642.13 464.28,632.28 468.2,623.5 C472.12,614.72 475.73,606.35 479.5,597.1 C483.27,587.85 486.37,579.32 490.8,568 C495.23,556.68 502.18,538.87 506.1,529.2 C510.02,519.53 512,515.3 514.3,510 C516.6,504.7 517.85,501.83 519.9,497.4 C521.95,492.97 524.8,487 526.6,483.4 C528.4,479.8 529.17,478.47 530.7,475.8 C532.23,473.13 534.37,469.67 535.8,467.4 C537.23,465.13 538.13,463.75 539.3,462.2 C540.47,460.65 541.62,459.47 542.8,458.1 C543.98,456.73 545.03,455.37 546.4,454 C547.77,452.63 549.45,451.02 551,449.9 C552.55,448.78 554.13,447.88 555.7,447.3 C557.27,446.72 558.85,446.45 560.4,446.4 C561.95,446.35 563.33,446.67 565,447 C566.67,447.33 568.73,447.82 570.4,448.4 C572.07,448.98 573.27,449.57 575,450.5 C576.73,451.43 578.85,452.93 580.8,454 C582.75,455.07 584.75,456.12 586.7,456.9 C588.65,457.68 591.05,458.32 592.5,458.7 C593.95,459.08 594.23,459.35 595.4,459.2 C596.57,459.05 598.23,458.47 599.5,457.8 C600.77,457.13 601.92,456.27 603,455.2 C604.08,454.13 605.27,452.52 606,451.4 C606.73,450.28 607.17,448.98 607.4,448.5" fill="none" stroke="#686868" stroke-width="1.75" stroke-linejoin="round" stroke-linecap="round"/>
<path d="M62.5,299.9 C64.17,297.92 69.67,290.72 72.5,288 C75.33,285.28 77.17,284.7 79.5,283.6 C81.83,282.5 83.28,281.25 86.5,281.4 C89.72,281.55 94.72,282.82 98.8,284.5 C102.88,286.18 106.63,289.22 111,291.5 C115.37,293.78 120.17,296.53 125,298.2 C129.83,299.87 135,301.57 140,301.5 C145,301.43 150.83,298.95 155,297.8 C159.17,296.65 160.42,295.88 165,294.6 C169.58,293.32 176.67,291.63 182.5,290.1 C188.33,288.57 195.42,286.58 200,285.4 C204.58,284.22 206.58,283.58 210,283 C213.42,282.42 216.33,281.8 220.5,281.9 C224.67,282 230.08,282.65 235,283.6 C239.92,284.55 244.77,286.03 250,287.6 C255.23,289.17 259.48,290.63 266.4,293 C273.32,295.37 283.9,299.88 291.5,301.8 C299.1,303.72 305.58,304.8 312,304.5 C318.42,304.2 324.9,302.02 330,300 C335.1,297.98 339.1,294.9 342.6,292.4 C346.1,289.9 348.3,287.67 351,285 C353.7,282.33 356.38,279.32 358.8,276.4 C361.22,273.48 363.32,270.48 365.5,267.5 C367.68,264.52 369.9,261.55 371.9,258.5 C373.9,255.45 375.55,252.25 377.5,249.2 C379.45,246.15 381.68,243.3 383.6,240.2 C385.52,237.1 387.23,233.77 389,230.6 C390.77,227.43 392.43,224.37 394.2,221.2 C395.97,218.03 397.83,214.85 399.6,211.6 C401.37,208.35 403.08,204.95 404.8,201.7 C406.52,198.45 408.2,195.28 409.9,192.1 C411.6,188.92 413.28,185.78 415,182.6 C416.72,179.42 418.42,176.2 420.2,173 C421.98,169.8 423.88,166.55 425.7,163.4 C427.52,160.25 429.27,157.22 431.1,154.1 C432.93,150.98 434.82,147.82 436.7,144.7 C438.58,141.58 440.48,138.5 442.4,135.4 C444.32,132.3 446.23,129.15 448.2,126.1 C450.17,123.05 452.03,119.98 454.2,117.1 C456.37,114.22 458.82,111.58 461.2,108.8 C463.58,106.02 466,103.05 468.5,100.4 C471,97.75 473.48,95.28 476.2,92.9 C478.92,90.52 481.78,88.15 484.8,86.1 C487.82,84.05 490.98,82.08 494.3,80.6 C497.62,79.12 501.18,77.88 504.7,77.2 C508.22,76.52 511.78,76.42 515.4,76.5 C519.02,76.58 523.68,77.27 526.4,77.7 C529.12,78.13 529.12,78.2 531.7,79.1 C534.28,80 538.5,81.72 541.9,83.1 C545.3,84.48 548.7,86.02 552.1,87.4 C555.5,88.78 558.85,90.35 562.3,91.4 C565.75,92.45 569.27,93.7 572.8,93.7 C576.33,93.7 580.02,92.45 583.5,91.4 C586.98,90.35 591.07,88.57 593.7,87.4 C596.33,86.23 598.37,84.9 599.3,84.4" fill="none" stroke="#1c1c1c" stroke-width="2.6" stroke-linecap="round" stroke-dasharray="0 5.3396"/>
<path d="M66.4,690.8 C67.27,692.4 69.57,697.48 71.6,700.4 C73.63,703.32 75.67,706.25 78.6,708.3 C81.53,710.35 85.55,712.42 89.2,712.7 C92.85,712.98 95.98,711.27 100.5,710 C105.02,708.73 111.33,706.62 116.3,705.1 C121.27,703.58 125.35,702.12 130.3,700.9 C135.25,699.68 141.05,698.03 146,697.8 C150.95,697.57 155.33,698.63 160,699.5 C164.67,700.37 169.27,701.52 174,703 C178.73,704.48 183.27,706.4 188.4,708.4 C193.53,710.4 199.52,713.22 204.8,715 C210.08,716.78 215.68,718.25 220.1,719.1 C224.52,719.95 226.87,720.45 231.3,720.1 C235.73,719.75 242.27,718.37 246.7,717 C251.13,715.63 253.98,714.28 257.9,711.9 C261.82,709.52 266.45,706.1 270.2,702.7 C273.95,699.3 277.03,695.6 280.4,691.5 C283.77,687.4 287.07,682.7 290.4,678.1 C293.73,673.5 297.83,667.83 300.4,663.9 C302.97,659.97 303.98,657.63 305.8,654.5 C307.62,651.37 309.52,648.27 311.3,645.1 C313.08,641.93 314.83,638.7 316.5,635.5 C318.17,632.3 319.68,629.12 321.3,625.9 C322.92,622.68 324.58,619.52 326.2,616.2 C327.82,612.88 329.43,609.33 331,606 C332.57,602.67 333.85,600.03 335.6,596.2 C337.35,592.37 339.45,587.72 341.5,583 C343.55,578.28 345.1,574.33 347.9,567.9 C350.7,561.47 354.82,551.35 358.3,544.4 C361.78,537.45 365.32,532.07 368.8,526.2 C372.28,520.33 375.72,514.87 379.2,509.2 C382.68,503.53 386.43,496.93 389.7,492.2 C392.97,487.47 395.65,484.6 398.8,480.8 C401.95,477 405.5,472.58 408.6,469.4 C411.7,466.22 414.48,463.97 417.4,461.7 C420.32,459.43 423,457.43 426.1,455.8 C429.2,454.17 432.53,452.92 436,451.9 C439.47,450.88 443.25,449.88 446.9,449.7 C450.55,449.52 454.25,450.25 457.9,450.8 C461.55,451.35 465.33,452.02 468.8,453 C472.27,453.98 475.6,455.25 478.7,456.7 C481.8,458.15 484.3,460.13 487.4,461.7 C490.5,463.27 494.65,464.95 497.3,466.1 C499.95,467.25 501.43,467.92 503.3,468.6 C505.17,469.28 506.73,469.72 508.5,470.2 C510.27,470.68 512.12,471.13 513.9,471.5 C515.68,471.87 517.42,472.13 519.2,472.4 C520.98,472.67 522.8,472.92 524.6,473.1 C526.4,473.28 528.18,473.5 530,473.5 C531.82,473.5 533.7,473.37 535.5,473.1 C537.3,472.83 539.05,472.42 540.8,471.9 C542.55,471.38 544.27,470.65 546,470 C547.73,469.35 549.5,468.7 551.2,468 C552.9,467.3 554.53,466.48 556.2,465.8 C557.87,465.12 559.5,464.58 561.2,463.9 C562.9,463.22 564.75,462.42 566.4,461.7 C568.05,460.98 569.47,460.27 571.1,459.6 C572.73,458.93 574.45,458.3 576.2,457.7 C577.95,457.1 579.82,456.28 581.6,456 C583.38,455.72 585.2,455.77 586.9,456 C588.6,456.23 590.25,456.62 591.8,457.4 C593.35,458.18 594.85,459.43 596.2,460.7 C597.55,461.97 598.8,463.5 599.9,465 C601,466.5 602.32,468.92 602.8,469.7" fill="none" stroke="#1c1c1c" stroke-width="2.6" stroke-linecap="round" stroke-dasharray="0 5.3306"/>
<defs><filter id="bl" x="-20%" y="-60%" width="140%" height="220%"><feGaussianBlur stdDeviation="1.0"/></filter><filter id="glow" x="-30%" y="-100%" width="160%" height="300%"><feGaussianBlur stdDeviation="2.2"/></filter><filter id="bl2" x="-30%" y="-80%" width="160%" height="260%"><feGaussianBlur stdDeviation="2.0"/></filter><linearGradient id="fade" x1="0" x2="1" y1="0" y2="0"><stop offset="0" stop-color="#fff" stop-opacity="0.8"/><stop offset="0.3" stop-color="#fff" stop-opacity="0.35"/><stop offset="0.65" stop-color="#fff" stop-opacity="0.12"/><stop offset="1" stop-color="#fff" stop-opacity="0"/></linearGradient></defs>
<rect x="112.2" y="856.6" width="59.8" height="73.1" fill="#080808"/>
<g filter="url(#glow)" opacity="0.35"><rect x="114" y="887" width="57" height="14" fill="#fff"/></g>
<g filter="url(#bl)"><path d="M115,889.4 Q127,892 139.6,889.6 L139.6,898.4 Q127,899.6 115,898.4 Z" fill="#fff"/><path d="M141.6,889.2 Q156,891.8 170.8,889.4 L170.8,898.4 Q156,899.4 141.6,898.4 Z" fill="#fff"/></g>
<rect x="572.1" y="857.7" width="58.5" height="72.7" fill="#080808"/>
<g filter="url(#bl2)"><rect x="595" y="891.3" width="28" height="10.2" fill="url(#fade)"/></g>
<g filter="url(#glow)" opacity="0.35"><rect x="574" y="889" width="25" height="14" fill="#fff"/></g>
<g filter="url(#bl)"><path d="M575,890.4 Q586,893.6 597.6,890.6 L597.8,900.8 Q586,902 575,900.6 Z" fill="#fff"/></g>
<line x1="226" y1="890.2" x2="294.5" y2="890.2" stroke="#111" stroke-width="2"/>
<path d="M204.4,890.1 C213,888.7 224,886.9 232.3,883.2 C229.5,886 227.6,888 227.4,890.1 C227.6,892.2 229.5,894.5 232.3,897 C224,893.3 213,891.5 204.4,890.1 Z" fill="#111"/>
<line x1="452" y1="889.9" x2="519" y2="889.9" stroke="#111" stroke-width="2"/>
<path d="M540.9,890 C532,891.3 521.5,892.9 512.9,895.8 C515.8,893.7 517.5,891.9 517.6,890 C517.5,888.1 515.8,886.3 512.9,884.1 C521.5,887.1 532,888.7 540.9,890 Z" fill="#111"/>
<text x="345.16" y="886.9" class="big" textLength="50.59" lengthAdjust="spacingAndGlyphs">BRCA1</text>
<text x="345.04" y="910.6" class="big" textLength="54.71" lengthAdjust="spacingAndGlyphs">134 bp</text>
<text x="0.13" y="953.4" class="sm" textLength="54.59" lengthAdjust="spacingAndGlyphs">primes:</text>
<text x="118.12" y="953" class="sm" textLength="48.7" lengthAdjust="spacingAndGlyphs">wt mut</text>
<text x="576.72" y="953.4" class="sm" textLength="49.4" lengthAdjust="spacingAndGlyphs">wt mut</text>
</svg></body></html>
